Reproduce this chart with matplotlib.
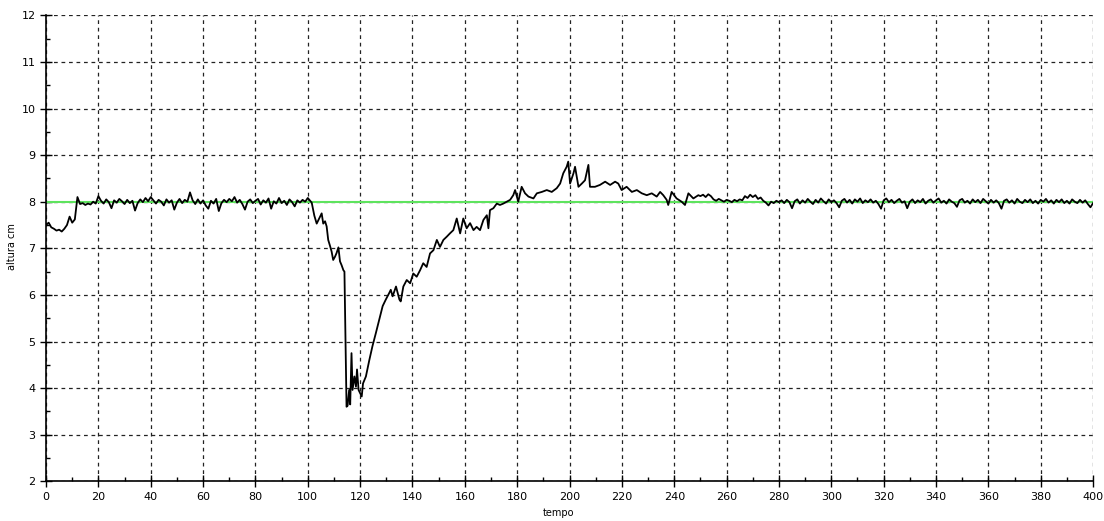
import numpy as np
import matplotlib
matplotlib.use("Agg")
import matplotlib.pyplot as plt
from matplotlib.ticker import MultipleLocator

t_start = [0, 1, 2, 3, 4, 5, 6, 7, 8, 9, 10, 11, 12]
h_start = [7.50, 7.55, 7.45, 7.42, 7.38, 7.40, 7.36, 7.42, 7.50, 7.68, 7.55, 7.62, 8.10]

t_flat1 = list(range(13, 101))
h_flat1 = [7.95, 7.97, 7.93, 7.96, 7.94, 8.00, 7.96, 8.12, 8.02, 7.96,
           8.05, 7.99, 7.86, 8.03, 7.98, 8.06, 8.01, 7.95, 8.04, 7.97,
           8.02, 7.81, 7.97, 8.05, 7.99, 8.08, 8.01, 8.10, 8.03, 7.96,
           8.04, 8.00, 7.92, 8.05, 7.98, 8.03, 7.83, 7.98, 8.06, 7.97,
           8.04, 8.00, 8.20, 8.03, 7.95, 8.05, 7.96, 8.03, 7.92, 7.85,
           8.02, 7.96, 8.06, 7.80, 7.97, 8.04, 7.99, 8.06, 8.01, 8.10,
           7.98, 8.04, 7.95, 7.83, 8.00, 8.05, 7.97, 8.02, 8.06, 7.94,
           8.03, 7.98, 8.07, 7.85, 8.01, 7.96, 8.08, 7.97, 8.02, 7.93,
           8.05, 7.99, 7.90, 8.03, 7.98, 8.04, 8.00, 8.08]

t_drop = [101.5, 102.5, 103.4, 104.7, 105.3, 105.9, 106.6, 107.2, 107.8, 108.5,
          109.1, 109.7, 110.4, 111.0, 111.7, 112.3, 112.9, 113.6, 114.0, 114.8,
          115.2, 115.8, 116.2, 116.7, 117.1, 117.8, 118.4, 118.8, 119.4, 119.9,
          120.6, 121.1, 122.2, 123.5, 124.7, 126.0, 127.3, 128.6, 129.8, 131.1,
          131.7, 132.4, 133.7, 135.0, 135.5]
h_drop = [7.98, 7.70, 7.53, 7.68, 7.75, 7.53, 7.58, 7.47, 7.18, 7.05,
          6.93, 6.75, 6.82, 6.90, 7.02, 6.72, 6.64, 6.53, 6.50, 3.60,
          3.62, 3.96, 3.65, 4.75, 3.96, 4.25, 4.03, 4.40, 3.96, 3.90,
          3.82, 4.10, 4.25, 4.60, 4.90, 5.18, 5.47, 5.76, 5.90, 6.04,
          6.11, 5.97, 6.18, 5.90, 5.86]

t_rise = [136.5, 137.8, 139.1, 140.3, 141.6, 142.9, 144.1, 145.4, 146.7, 148.0,
          149.3, 150.5, 151.8, 153.1, 154.3, 155.6, 156.9, 158.2, 159.4, 160.7,
          162.0, 163.3, 164.5, 165.8, 167.1, 168.4, 169.0, 169.6, 170.9, 172.2,
          173.4, 174.7, 176.0, 177.3, 178.5, 179.2, 180.4, 181.7, 183.0, 184.3,
          186.2, 187.5, 189.4, 191.3, 193.2, 195.1, 196.4, 197.6, 198.9, 199.5,
          200.2, 201.5, 202.1, 203.4, 204.7, 205.9, 207.2, 207.8, 209.7, 211.6,
          213.6, 215.5, 217.4, 218.6, 219.9, 221.8, 223.8, 225.7, 227.6, 229.5,
          231.4, 233.3, 234.6, 235.8, 237.1, 237.7, 239.0, 240.9, 242.8, 244.1,
          245.4, 247.3, 249.2]
h_rise = [6.18, 6.32, 6.25, 6.46, 6.39, 6.53, 6.68, 6.60, 6.89, 6.96,
          7.18, 7.03, 7.18, 7.25, 7.32, 7.39, 7.64, 7.32, 7.64, 7.43,
          7.54, 7.39, 7.46, 7.39, 7.61, 7.71, 7.43, 7.82, 7.86, 7.96,
          7.93, 7.96, 8.00, 8.04, 8.14, 8.25, 8.00, 8.32, 8.18, 8.11,
          8.07, 8.18, 8.21, 8.25, 8.21, 8.29, 8.39, 8.61, 8.75, 8.86,
          8.39, 8.61, 8.75, 8.32, 8.39, 8.46, 8.79, 8.32, 8.32, 8.36,
          8.43, 8.36, 8.43, 8.39, 8.25, 8.32, 8.21, 8.25, 8.18, 8.14,
          8.18, 8.11, 8.21, 8.14, 8.04, 7.93, 8.21, 8.07, 8.00, 7.93,
          8.18, 8.07, 8.14]

t_flat2 = list(range(250, 401))
h_flat2 = [8.12, 8.15, 8.10, 8.16, 8.12, 8.05, 8.02, 8.06, 8.03, 8.00,
           8.04, 8.02, 7.99, 8.04, 8.01, 8.05, 8.03, 8.12, 8.08, 8.15,
           8.10, 8.14, 8.06, 8.09, 8.02, 7.98, 7.92, 8.00, 7.97, 8.02,
           7.99, 8.03, 7.97, 8.04, 7.99, 7.86, 8.01, 8.05, 7.96, 8.03,
           7.98, 8.06, 8.00, 7.95, 8.04, 7.98, 8.07, 8.01, 7.96, 8.05,
           7.99, 8.03, 7.97, 7.88, 8.02, 8.06, 7.98, 8.04, 7.96, 8.05,
           8.00, 8.07, 7.97, 8.03, 7.99, 8.05, 7.98, 8.02, 7.95, 7.85,
           8.03, 8.07, 7.99, 8.04, 7.97, 8.02, 8.06, 7.98, 8.01, 7.86,
           8.00, 8.05, 7.97, 8.03, 7.99, 8.06, 7.96, 8.02, 8.05, 7.98,
           8.03, 8.07, 7.98, 8.02, 7.96, 8.05, 8.00, 7.97, 7.89, 8.03,
           8.06, 7.98, 8.02, 7.96, 8.05, 7.99, 8.04, 7.97, 8.06, 8.01,
           7.96, 8.04, 7.98, 8.03, 7.97, 7.85, 8.02, 8.05, 7.98, 8.03,
           7.96, 8.06, 8.00, 7.97, 8.04, 7.99, 8.05, 7.97, 8.02, 7.96,
           8.04, 8.00, 8.06, 7.98, 8.03, 7.96, 8.04, 7.99, 8.05, 7.97,
           8.02, 7.96, 8.05, 8.00, 7.97, 8.04, 7.98, 8.03, 7.95, 7.88,
           7.97]

setpoint = 8.0

tempo = np.concatenate([t_start, t_flat1, t_drop, t_rise, t_flat2])
altura = np.concatenate([h_start, h_flat1, h_drop, h_rise, h_flat2])

fig = plt.figure(figsize=(11.04, 5.21), dpi=100)
ax = fig.add_axes([0.0417, 0.0762, 0.9484, 0.8944])

ax.axhline(setpoint, color="#5ee35e", lw=1.5, zorder=2)
ax.plot(tempo, altura, color="black", lw=1.3, zorder=3)

ax.set_xlim(0, 400)
ax.set_ylim(2, 12)
ax.xaxis.set_major_locator(MultipleLocator(20))
ax.xaxis.set_minor_locator(MultipleLocator(10))
ax.yaxis.set_major_locator(MultipleLocator(1))
ax.yaxis.set_minor_locator(MultipleLocator(0.5))

ax.grid(True, which="major", color="#222222", linestyle=(0, (3, 3)), lw=0.9)
ax.spines["top"].set_visible(False)
ax.spines["right"].set_visible(False)
ax.spines["left"].set_linewidth(1.2)
ax.spines["bottom"].set_linewidth(1.2)
ax.tick_params(which="major", direction="inout", length=8, width=1, labelsize=8, colors="black")
ax.tick_params(which="minor", direction="in", length=3, width=1)

# eixos: rotulos posicionados como no original
fig.text(559 / 1104, 1 - 513 / 521, "tempo", fontsize=7, ha="center", va="center")
fig.text(12 / 1104, 1 - 247 / 521, "altura cm", fontsize=7, rotation=90,
         ha="center", va="center")

fig.savefig("out.png", dpi=100)
